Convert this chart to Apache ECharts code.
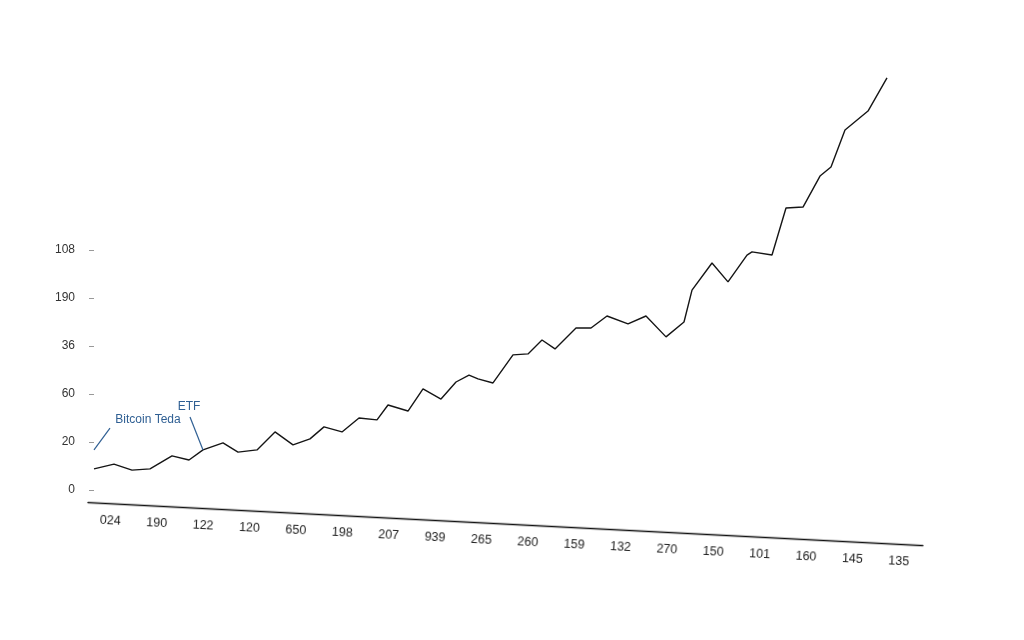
<!DOCTYPE html>
<html lang="en">
<head>
    <meta charset="UTF-8">
    <title>Bitcoin ETF</title>
    <script src="https://cdn.jsdelivr.net/npm/echarts@6/dist/echarts.min.js"></script>
    <style>
        html, body { margin: 0; padding: 0; background: #fff; }
        #wrap { position: relative; width: 1024px; height: 640px; overflow: hidden; }
        #main, #axis { position: absolute; left: 0; top: 0; width: 1024px; height: 640px; }
        /* the bottom axis is drawn slanted in the source picture */
        #axis { transform-origin: 86px 502px; transform: rotate(2.95deg); pointer-events: none; }
    </style>
</head>
<body>
<div id="wrap">
    <div id="main"></div>
    <div id="axis"></div>
</div>
<script>
    // tick labels as printed
    var yLabels = ['0', '20', '60', '36', '190', '108'];
    var xLabels = ['024', '190', '122', '120', '650', '198', '207', '939', '265',
        '260', '159', '132', '270', '150', '101', '160', '145', '135'];

    // line vertices: position along the run and value
    var xPos = [0, 2, 3.8, 5.6, 7.8, 9.5, 10.9, 12.9, 14.4, 16.3,
        18.1, 19.9, 21.6, 23, 24.8, 26.5, 28.3, 29.4, 31.4, 32.9,
        34.7, 36.2, 37.5, 38.4, 39.9, 41.9, 43.4, 44.8, 46.1, 48.2,
        49.7, 51.3, 53.4, 55.2, 57.2, 59, 59.8, 61.8, 63.4, 65.3,
        65.8, 67.8, 69.2, 70.9, 72.6, 73.7, 75.1, 77.4, 79.3];
    var yVal = [8.8, 10.8, 8.3, 8.8, 14.2, 12.5, 16.7, 19.6, 15.8, 16.7,
        24.2, 18.8, 21.3, 26.3, 24.2, 30, 29.2, 35.4, 32.9, 42.1,
        37.9, 45, 47.9, 46.3, 44.6, 56.3, 56.7, 62.5, 58.8, 67.5,
        67.5, 72.5, 69.2, 72.5, 63.8, 70, 83.3, 94.6, 86.7, 97.9,
        99.2, 97.9, 117.5, 117.9, 130.8, 134.6, 150, 157.9, 171.7];

    // annotations
    var noteBitcoin = { text: 'Bitcoin Teda', at: [5.4, 29.2], from: [0, 16.7], to: [1.6, 25.8] };
    var noteEtf = { text: 'ETF', at: [9.5, 34.6], from: [9.6, 30.4], to: [10.9, 16.7] };

    var series = [];
    for (var i = 0; i < xPos.length; i++) {
        series.push([xPos[i], yVal[i]]);
    }

    var noteColor = '#2f5f93';
    function noteLabel(n) {
        return {
            coord: n.at,
            symbol: 'circle',
            symbolSize: 1,
            itemStyle: { color: 'rgba(0,0,0,0)' },
            label: {
                show: true, position: 'inside', formatter: n.text,
                color: noteColor, fontSize: 12, fontFamily: 'Liberation Sans'
            }
        };
    }

    var chart = echarts.init(document.getElementById('main'));
    chart.setOption({
        animation: false,
        backgroundColor: '#fff',
        grid: { left: 87, right: 137, top: 250, bottom: 150 },
        xAxis: { type: 'value', min: -0.7, max: 79.3, show: false },
        yAxis: {
            type: 'value', min: 0, max: 100, interval: 20,
            axisLine: { show: false },
            axisTick: { show: true, length: 5, lineStyle: { color: '#999' } },
            splitLine: { show: false },
            axisLabel: {
                margin: 12, color: '#333', fontSize: 12, fontFamily: 'Liberation Sans',
                formatter: function (v) { return yLabels[Math.round(v / 20)] || ''; }
            }
        },
        series: [{
            type: 'line',
            data: series,
            clip: false,
            symbol: 'none',
            lineStyle: { color: '#151515', width: 1.4 },
            markLine: {
                silent: true,
                symbol: 'none',
                label: { show: false },
                lineStyle: { color: noteColor, width: 1.2, type: 'solid' },
                data: [
                    [{ coord: noteBitcoin.from }, { coord: noteBitcoin.to }],
                    [{ coord: noteEtf.from }, { coord: noteEtf.to }]
                ]
            },
            markPoint: {
                silent: true,
                data: [noteLabel(noteBitcoin), noteLabel(noteEtf)]
            }
        }]
    });

    // slanted category axis along the bottom
    var axisChart = echarts.init(document.getElementById('axis'));
    axisChart.setOption({
        animation: false,
        grid: { left: 88, right: 100, top: 300, bottom: 138 },
        xAxis: {
            type: 'category',
            data: xLabels,
            boundaryGap: true,
            axisLine: { lineStyle: { color: '#111', width: 1.4 } },
            axisTick: { alignWithLabel: true, length: 5, lineStyle: { color: '#222' } },
            axisLabel: { margin: 11, color: '#222', fontSize: 12.5, fontFamily: 'Liberation Sans' }
        },
        yAxis: { type: 'value', show: false },
        series: []
    });
</script>
</body>
</html>
